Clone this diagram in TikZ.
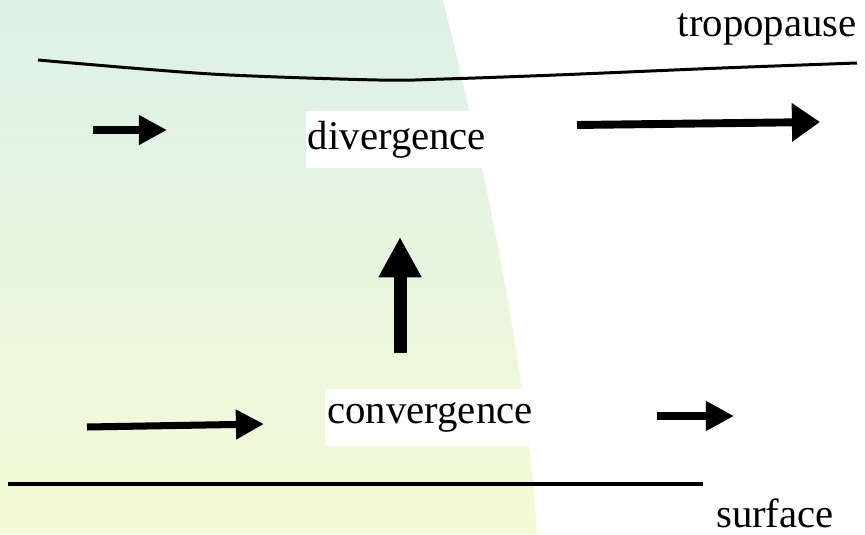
\documentclass[tikz,border=0pt]{standalone}
\usepackage{fontspec}
\setmainfont{Liberation Serif}
\usetikzlibrary{arrows.meta}
\definecolor{shadeTop}{RGB}{221,241,232}
\definecolor{shadeBottom}{RGB}{244,250,214}

\begin{document}
\begin{tikzpicture}[x=0.02cm, y=-0.02cm,
    levelbox/.style={fill=white, inner xsep=0.04cm, inner ysep=0pt, minimum height=1.14cm, font=\fontsize{23.2}{27}\selectfont},
    levelname/.style={inner sep=0pt, font=\fontsize{23.2}{27}\selectfont},
    boundary/.style={line width=1.7pt, draw=black},
    flowsmall/.style={line width=4pt, -{Triangle[length=16pt, width=16pt]}},
    flowwide/.style={line width=4.5pt, -{Triangle[length=16pt, width=21pt]}},
    flowup/.style={line width=7.4pt, -{Triangle[length=23pt, width=23pt]}}
]
    \useasboundingbox (0,0) rectangle (865,534);
    \shade[top color=shadeTop, bottom color=shadeBottom] (0,0) -- (443,0) .. controls (480,150) and (525,350) .. (537,534) -- (0,534) -- cycle;

    \draw[boundary] plot[smooth] coordinates {(38,60) (211,74) (378,80) (444,79) (556,75) (722,68) (857,63)};
    \draw[boundary, line width=2pt] (8,484) -- (703,484);

    \node[levelname, anchor=base east] (tropo) at (857,36) {tropopause};
    \node[levelname, anchor=base] (surf) at (775,527) {surface};
    \node[levelbox] (div) at (397,139.5) {divergence};
    \node[levelbox] (conv) at (430,417) {convergence};

    \coordinate (upLeftA) at (93,130);
    \coordinate (upLeftB) at (167,130);
    \coordinate (upRightA) at (577,125);
    \coordinate (upRightB) at (820,122);
    \coordinate (riseA) at (400,353);
    \coordinate (riseB) at (400,237);
    \coordinate (lowLeftA) at (87,427);
    \coordinate (lowLeftB) at (264,424);
    \coordinate (lowRightA) at (657,416);
    \coordinate (lowRightB) at (734,416);

    \draw[flowsmall] (upLeftA) -- (upLeftB);
    \draw[flowwide] (upRightA) -- (upRightB);
    \draw[flowup] (riseA) -- (riseB);
    \draw[flowsmall] (lowLeftA) -- (lowLeftB);
    \draw[flowsmall] (lowRightA) -- (lowRightB);
\end{tikzpicture}
\end{document}
